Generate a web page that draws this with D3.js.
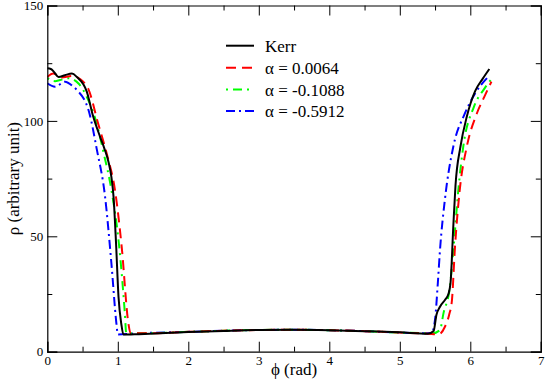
<!DOCTYPE html>
<html>
<head>
<meta charset="utf-8">
<script src="https://cdn.jsdelivr.net/npm/d3@7"></script>
<style>
  body { margin: 0; background: #fff; }
  svg { display: block; }
</style>
</head>
<body>
<div class="chart"></div>
<script>
// phi (rad) / rho (arbitrary unit)
const kerrPhi = [0, 0.05, 0.1, 0.16, 0.25, 0.35, 0.42, 0.56, 0.65, 0.75, 0.81, 0.87, 0.91, 0.94, 0.975, 1.01, 1.05, 1.08, 1.3, 2.0, 2.5, 3.0, 3.5, 4.0, 4.5, 5.0, 5.4, 5.48, 5.52, 5.57, 5.64, 5.69, 5.72, 5.76, 5.79, 5.86, 5.95, 6.07, 6.17, 6.27];
const kerrRho = [122.8, 122.5, 121, 119, 119.8, 120.5, 119, 112.7, 102, 93, 88, 82, 75.5, 67, 47, 23.8, 12, 7.4, 7.6, 8.5, 9, 9.4, 9.5, 9.3, 8.9, 8.4, 7.8, 9, 16, 19.5, 22.4, 25, 30, 55, 72, 88.8, 101.8, 113, 118, 122.5];

const redPhi = [0, 0.085, 0.2, 0.35, 0.51, 0.58, 0.72, 0.85, 0.96, 1.055, 1.15, 1.18, 1.4, 2.0, 2.5, 3.0, 3.5, 4.0, 4.5, 5.0, 5.4, 5.55, 5.64, 5.7, 5.74, 5.78, 5.85, 5.95, 6.09, 6.2, 6.3];
const redRho = [119, 120.5, 118.8, 119.5, 117, 114, 99, 85, 70, 45.5, 12.3, 8, 8, 8.6, 9.1, 9.4, 9.5, 9.3, 8.9, 8.3, 7.8, 7.5, 10.8, 16, 22.4, 44, 70, 88.8, 103, 110.5, 117];

const greenPhi = [0, 0.11, 0.18, 0.3, 0.45, 0.55, 0.69, 0.8, 0.91, 1.02, 1.1, 1.12, 1.4, 2.0, 2.5, 3.0, 3.5, 4.0, 4.5, 5.0, 5.47, 5.57, 5.62, 5.71, 5.76, 5.83, 5.9, 6.05, 6.2, 6.31];
const greenRho = [118.5, 117.2, 117.7, 118.5, 116, 111, 100, 86, 70, 45.5, 16.6, 8, 8, 8.6, 9.1, 9.4, 9.5, 9.3, 8.9, 8.3, 8, 9.4, 16.7, 28, 44, 70, 88.8, 106, 114, 118.5];

const bluePhi = [0, 0.11, 0.25, 0.37, 0.42, 0.6, 0.7, 0.82, 0.91, 0.98, 1.0, 1.3, 2.0, 2.5, 3.0, 3.5, 4.0, 4.5, 5.0, 5.45, 5.5, 5.54, 5.57, 5.64, 5.76, 5.92, 6.07, 6.25];
const blueRho = [116.3, 114.8, 117, 114.8, 113.4, 103, 88, 67, 38, 12.3, 7.5, 8, 8.6, 9.1, 9.4, 9.5, 9.3, 8.9, 8.3, 8, 14, 30, 44, 66, 89, 103, 112, 119];

const seriesNames = ["Kerr", "\u03b1 = 0.0064", "\u03b1 = -0.1088", "\u03b1 = -0.5912"];
const seriesColors = ["#000000", "#ff0000", "#00ff00", "#0000ff"];
const seriesDash = [null, "10,6", "2,5,9,5", "9,4,2,4"];

const xTicks = [0, 1, 2, 3, 4, 5, 6, 7];
const xMinorTicks = [0.5, 1.5, 2.5, 3.5, 4.5, 5.5, 6.5];
const yTicks = [0, 50, 100, 150];
const yMinorTicks = [25, 75, 125];

const serif = "'Liberation Serif', 'Times New Roman', serif";
const width = 545, height = 388;
const frame = {left: 47.3, right: 540.8, top: 5.5, bottom: 351.7};

const x = d3.scaleLinear().domain([0, 7]).range([frame.left, frame.right]);
const y = d3.scaleLinear().domain([0, 150]).range([frame.bottom, frame.top]);

const svg = d3.select(".chart").append("svg")
  .attr("width", width)
  .attr("height", height)
  .attr("font-family", serif);

// clip curves to the frame
svg.append("clipPath").attr("id", "clip")
  .append("rect")
  .attr("x", frame.left).attr("y", frame.top)
  .attr("width", frame.right - frame.left).attr("height", frame.bottom - frame.top);

const series = [
  {phi: kerrPhi, rho: kerrRho},
  {phi: redPhi, rho: redRho},
  {phi: greenPhi, rho: greenRho},
  {phi: bluePhi, rho: blueRho}
];

const line = d3.line()
  .x(d => x(d[0]))
  .y(d => y(d[1]))
  .curve(d3.curveMonotoneX);

// draw blue first so black ends on top, like the original
const order = [3, 2, 1, 0];
svg.append("g").attr("clip-path", "url(#clip)")
  .selectAll("path")
  .data(order)
  .join("path")
  .attr("d", i => line(d3.zip(series[i].phi, series[i].rho)))
  .attr("fill", "none")
  .attr("stroke", i => seriesColors[i])
  .attr("stroke-width", 2)
  .attr("stroke-dasharray", i => seriesDash[i]);

// axes: ticks point inward on all four sides
function addAxis(axis, tx, ty, vals, size, labels) {
  const g = svg.append("g")
    .attr("transform", `translate(${tx},${ty})`)
    .call(axis.tickValues(vals).tickSize(size).tickPadding(4))
    .attr("font-family", serif)
    .attr("font-size", 13);
  g.selectAll("line").attr("stroke", "#000");
  g.select(".domain").attr("stroke", "#000").attr("stroke-width", 1.2);
  if (!labels) g.selectAll(".tick text").remove();
  g.selectAll(".tick text").attr("fill", "#000");
  return g;
}

addAxis(d3.axisBottom(x).tickFormat(d3.format("d")), 0, frame.bottom, xTicks, -10, true);
addAxis(d3.axisBottom(x), 0, frame.bottom, xMinorTicks, -5, false).select(".domain").remove();
addAxis(d3.axisTop(x), 0, frame.top, xTicks, -10, false);
addAxis(d3.axisTop(x), 0, frame.top, xMinorTicks, -5, false).select(".domain").remove();
addAxis(d3.axisLeft(y).tickFormat(d3.format("d")), frame.left, 0, yTicks, -10, true);
addAxis(d3.axisLeft(y), frame.left, 0, yMinorTicks, -5, false).select(".domain").remove();
addAxis(d3.axisRight(y), frame.right, 0, yTicks, -10, false);
addAxis(d3.axisRight(y), frame.right, 0, yMinorTicks, -5, false).select(".domain").remove();

// axis titles
svg.append("text")
  .attr("x", (frame.left + frame.right) / 2)
  .attr("y", 375)
  .attr("text-anchor", "middle")
  .attr("font-size", 17)
  .text("\u03d5 (rad)");

svg.append("text")
  .attr("transform", `translate(19,${(frame.top + frame.bottom) / 2}) rotate(-90)`)
  .attr("text-anchor", "middle")
  .attr("font-size", 17)
  .text("\u03c1 (arbitrary unit)");

// legend
const legendY = [45.7, 67.7, 89.5, 111];
const rows = svg.append("g")
  .selectAll("g")
  .data(d3.range(4))
  .join("g")
  .attr("transform", i => `translate(226,${legendY[i]})`);

rows.append("line")
  .attr("x1", 0).attr("x2", 28)
  .attr("stroke", i => seriesColors[i])
  .attr("stroke-width", 2)
  .attr("stroke-dasharray", i => seriesDash[i]);

rows.append("text")
  .attr("x", 39)
  .attr("y", 6)
  .attr("font-size", 17)
  .text(i => seriesNames[i]);
</script>
</body>
</html>
